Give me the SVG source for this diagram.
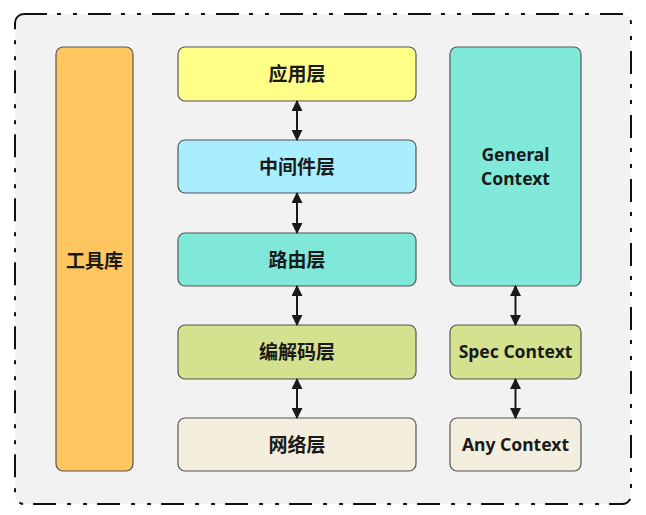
<svg xmlns="http://www.w3.org/2000/svg" width="646" height="515" viewBox="0 0 646 515">
<defs>
<marker id="ah" viewBox="0 0 10 10" refX="9" refY="5" markerWidth="11" markerHeight="11" markerUnits="userSpaceOnUse" orient="auto-start-reverse">
<path d="M0,0 L10,5 L0,10 z" fill="#1a1a1a"/>
</marker>
<style>
.box{stroke:#555;stroke-width:1.2}
.t{font-family:"Noto Sans","Noto Sans CJK SC",sans-serif;font-weight:bold;font-size:17.5px;fill:#1a1a1a;text-anchor:middle;dominant-baseline:central}
.z{font-family:"Noto Sans CJK SC",sans-serif;font-size:19px}
.c{stroke:#1a1a1a;stroke-width:2;fill:none;marker-start:url(#ah);marker-end:url(#ah)}
</style>
</defs>
<rect x="15" y="14" width="616" height="490" rx="9" fill="#f2f2f2" stroke="#111" stroke-width="2" stroke-dasharray="23 10 4 12 4 11"/>
<g id="tools"><rect class="box" x="56" y="47" width="77" height="424" rx="7" fill="#ffc55e"/><text class="t z" x="94.5" y="259.5">工具库</text></g>
<g id="app"><rect class="box" x="178" y="47" width="238" height="54" rx="7" fill="#ffff88"/><text class="t z" x="297" y="72.5">应用层</text></g>
<g id="middleware"><rect class="box" x="178" y="140" width="238" height="53" rx="7" fill="#a8eeff"/><text class="t z" x="297" y="165">中间件层</text></g>
<g id="router"><rect class="box" x="178" y="233" width="238" height="53" rx="7" fill="#7fe8d9"/><text class="t z" x="297" y="258">路由层</text></g>
<g id="codec"><rect class="box" x="178" y="325" width="238" height="54" rx="7" fill="#d4e18f"/><text class="t z" x="297" y="350.5">编解码层</text></g>
<g id="network"><rect class="box" x="178" y="418" width="238" height="53" rx="7" fill="#f3eedd"/><text class="t z" x="297" y="443">网络层</text></g>
<g id="general"><rect class="box" x="450" y="47" width="131" height="239" rx="7" fill="#80e9d9"/><text class="t" x="515.5" y="154">General</text><text class="t" x="515.5" y="178">Context</text></g>
<g id="spec"><rect class="box" x="450" y="325" width="131" height="54" rx="7" fill="#d4e18f"/><text class="t" x="515.5" y="351">Spec Context</text></g>
<g id="any"><rect class="box" x="450" y="418" width="131" height="53" rx="7" fill="#f3eedd"/><text class="t" x="515.5" y="444">Any Context</text></g>
<g id="connectors">
<line class="c" x1="297" y1="101" x2="297" y2="140"/>
<line class="c" x1="297" y1="193" x2="297" y2="233"/>
<line class="c" x1="297" y1="286" x2="297" y2="325"/>
<line class="c" x1="297" y1="379" x2="297" y2="418"/>
<line class="c" x1="515.5" y1="286" x2="515.5" y2="325"/>
<line class="c" x1="515.5" y1="379" x2="515.5" y2="418"/>
</g>
</svg>
